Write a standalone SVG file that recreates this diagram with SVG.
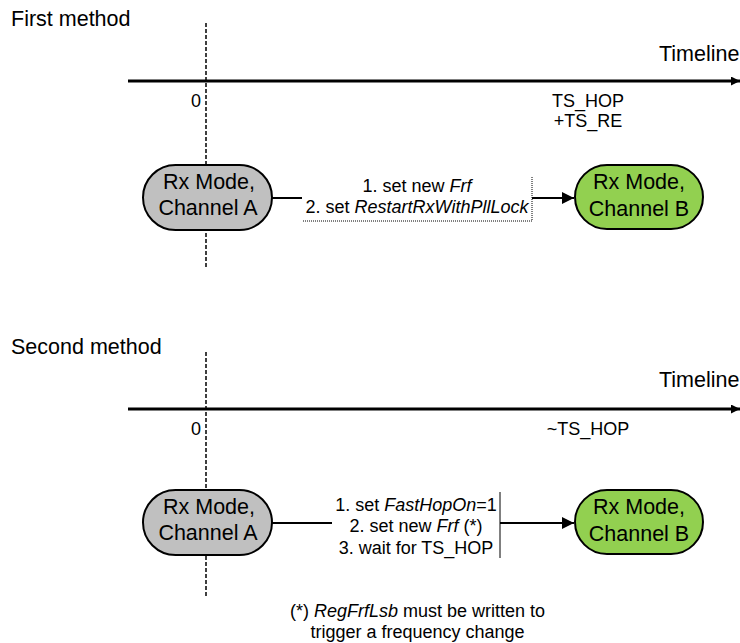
<svg xmlns="http://www.w3.org/2000/svg" width="740" height="643" viewBox="0 0 740 643">
  <style>
    text { font-family: "Liberation Sans", Arial, sans-serif; fill: #000; }
    .title { font-size: 21.5px; }
    .lbl { font-size: 18px; }
    .step { font-size: 18px; text-anchor: middle; }
    .node-text { font-size: 21.5px; text-anchor: middle; }
    .axis { stroke: #000; stroke-width: 3; fill: none; }
    .zero { stroke: #000; stroke-width: 1.5; stroke-dasharray: 4 2; fill: none; }
    .link { stroke: #000; stroke-width: 2; fill: none; }
    .thin { stroke: #000; stroke-width: 1; fill: none; }
    .dotted { stroke: #000; stroke-width: 1; stroke-dasharray: 1 1; fill: none; }
    .state { stroke: #000; stroke-width: 2; }
    .grey { fill: #C0C0C0; }
    .green { fill: #92D050; }
  </style>
  <defs>
    <marker id="arrow" viewBox="0 0 10 10" refX="10" refY="5" markerWidth="7" markerHeight="6" markerUnits="strokeWidth" orient="auto">
      <path d="M0,0 L10,5 L0,10 Z" fill="#000"/>
    </marker>
    <marker id="axis-arrow" viewBox="0 0 10 10" refX="10" refY="5" markerWidth="3" markerHeight="3" markerUnits="strokeWidth" orient="auto">
      <path d="M0,0 L10,5 L0,10 Z" fill="#000"/>
    </marker>
  </defs>

  <!-- section headings and timeline labels -->
  <text class="title" x="11" y="26">First method</text>
  <text class="title" x="659" y="61">Timeline</text>
  <text class="lbl" x="201" y="107" text-anchor="end">0</text>
  <text class="lbl" x="588" y="107" text-anchor="middle">TS_HOP</text>
  <text class="lbl" x="588" y="127" text-anchor="middle">+TS_RE</text>

  <text class="title" x="11" y="354">Second method</text>
  <text class="title" x="659" y="387">Timeline</text>
  <text class="lbl" x="201" y="435" text-anchor="end">0</text>
  <text class="lbl" x="588" y="435" text-anchor="middle">~TS_HOP</text>

  <!-- time axes -->
  <g id="axes">
    <line class="axis" x1="128" y1="81" x2="740" y2="81" marker-end="url(#axis-arrow)"/>
    <line class="zero" x1="206" y1="23" x2="206" y2="268"/>
    <line class="axis" x1="128" y1="409" x2="740" y2="409" marker-end="url(#axis-arrow)"/>
    <line class="zero" x1="206" y1="352" x2="206" y2="596"/>
  </g>

  <!-- transitions -->
  <g id="connectors">
    <line class="link" x1="272" y1="198" x2="302" y2="198"/>
    <polyline class="dotted" points="303,221 532,221 532,177"/>
    <line class="link" x1="532" y1="198" x2="574" y2="198" marker-end="url(#arrow)"/>

    <line class="link" x1="272" y1="523" x2="332" y2="523"/>
    <line class="thin" x1="500" y1="492" x2="500" y2="558"/>
    <line class="link" x1="500" y1="523" x2="574" y2="523" marker-end="url(#arrow)"/>
  </g>

  <!-- transition steps -->
  <g id="steps-first">
    <text class="step" x="417" y="192">1. set new <tspan font-style="italic">Frf</tspan></text>
    <text class="step" x="417" y="213">2. set <tspan font-style="italic">RestartRxWithPllLock</tspan></text>
  </g>
  <g id="steps-second">
    <text class="step" x="416" y="511">1. set <tspan font-style="italic">FastHopOn</tspan>=1</text>
    <text class="step" x="416" y="532">2. set new <tspan font-style="italic">Frf</tspan> (*)</text>
    <text class="step" x="416" y="554">3. wait for TS_HOP</text>
  </g>

  <!-- receiver states -->
  <g id="rx-a-1">
    <rect class="state grey" x="143" y="165" width="129" height="65" rx="32.5"/>
    <text class="node-text" x="209" y="189">Rx Mode,</text>
    <text class="node-text" x="208" y="215">Channel A</text>
  </g>
  <g id="rx-b-1">
    <rect class="state green" x="575" y="165" width="128" height="64" rx="32"/>
    <text class="node-text" x="639" y="189">Rx Mode,</text>
    <text class="node-text" x="639" y="216">Channel B</text>
  </g>
  <g id="rx-a-2">
    <rect class="state grey" x="143" y="490" width="129" height="65" rx="32.5"/>
    <text class="node-text" x="209" y="514">Rx Mode,</text>
    <text class="node-text" x="208" y="540">Channel A</text>
  </g>
  <g id="rx-b-2">
    <rect class="state green" x="575" y="490" width="128" height="64" rx="32"/>
    <text class="node-text" x="639" y="514">Rx Mode,</text>
    <text class="node-text" x="639" y="541">Channel B</text>
  </g>

  <!-- footnote -->
  <g id="footnote">
    <text class="step" x="417.5" y="617">(*) <tspan font-style="italic">RegFrfLsb</tspan> must be written to</text>
    <text class="step" x="417.5" y="638">trigger a frequency change</text>
  </g>
</svg>
